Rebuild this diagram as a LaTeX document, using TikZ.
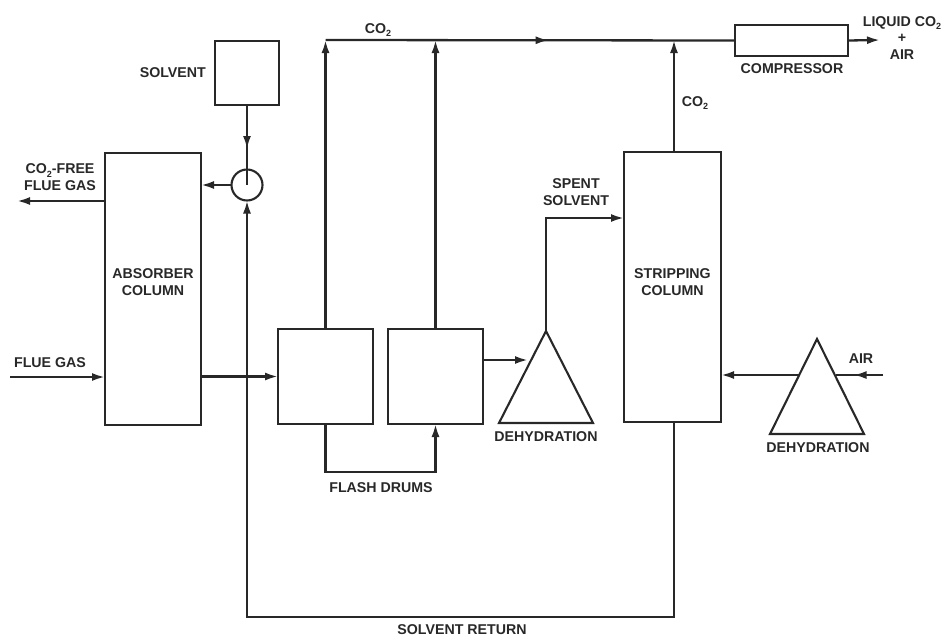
\documentclass[tikz,border=0pt]{standalone}
\usepackage{fontspec}
\setmainfont{Liberation Sans}
\usetikzlibrary{arrows.meta,decorations.markings,calc}
\newcommand{\cotwo}{CO\raisebox{-0.45ex}{\fontsize{9}{9}\selectfont 2}}
\definecolor{ink}{RGB}{40,40,40}
\begin{document}
\begin{tikzpicture}[x=1pt,y=-1pt,
  line width=2.3pt, draw=ink,
  >={Latex[length=13pt,width=8pt]},
  unit/.style={draw=ink, line width=2.1pt, inner sep=0pt, outer sep=0pt},
  lbl/.style={text=ink, font=\fontsize{14.2}{16.5}\selectfont\bfseries, align=center, inner sep=0pt},
  flow/.style={draw=ink, line width=2.3pt},
  midarrow/.style={postaction={decorate}, decoration={markings, mark=at position #1 with {\arrow{>}}}}
]
\useasboundingbox (0,0) rectangle (945,637);

% units
\node[unit, minimum width=96pt, minimum height=272pt] (absorber) at (153,289) {};
\node[unit, minimum width=64pt, minimum height=64pt] (solvent) at (247,73) {};
\node[unit, circle, minimum size=31pt] (mix) at (247,185) {};
\node[unit, minimum width=95pt, minimum height=95pt] (drum1) at (325.5,376.5) {};
\node[unit, minimum width=95pt, minimum height=95pt] (drum2) at (435.5,376.5) {};
\node[unit, minimum width=97pt, minimum height=270pt] (strip) at (672.5,287) {};
\node[unit, minimum width=113pt, minimum height=31pt] (comp) at (791.5,40.5) {};

% triangles (dehydration units)
\coordinate (t1a) at (546,331);
\coordinate (t1l) at (499,423);
\coordinate (t1r) at (593,423);
\draw[line width=2.1pt, line join=miter] (t1a) -- (t1r) -- (t1l) -- cycle;
\coordinate (t2a) at (817,339);
\coordinate (t2l) at (770,434);
\coordinate (t2r) at (864,434);
\draw[line width=2.1pt, line join=miter] (t2a) -- (t2r) -- (t2l) -- cycle;

% labels
\node[lbl] (absorberlbl) at (153,282) {ABSORBER\\COLUMN};
\node[lbl] (striplbl) at (672.5,282) {STRIPPING\\COLUMN};
\node[lbl, anchor=east] (solventlbl) at (207,73) {SOLVENT};
\node[lbl] (freelbl) at (60,177) {\cotwo-FREE\\FLUE GAS};
\node[lbl] (fluelbl) at (50,363) {FLUE GAS};
\node[lbl] (co2top) at (378,30) {\cotwo};
\node[lbl] (co2strip) at (695,103) {\cotwo};
\node[lbl] (complbl) at (792,69) {COMPRESSOR};
\node[lbl] (liqlbl) at (902,38) {LIQUID \cotwo\\+\\AIR};
\node[lbl] (spentlbl) at (576,192) {SPENT\\SOLVENT};
\node[lbl] (deh1lbl) at (546,437) {DEHYDRATION};
\node[lbl] (deh2lbl) at (818,448) {DEHYDRATION};
\node[lbl] (airlbl) at (861,359) {AIR};
\node[lbl] (flashlbl) at (381,488) {FLASH DRUMS};
\node[lbl] (retlbl) at (462,630) {SOLVENT RETURN};

% coordinates
\coordinate (co2line) at (0,40);
\coordinate (fgin) at (10,377);
\coordinate (fgout) at (17,201);
\coordinate (liqout) at (880,40);
\coordinate (airin) at (883,375);
\coordinate (t2lx) at (798.5,375);
\coordinate (t2rx) at (835.5,375);
\coordinate (t1lx) at (528,360);

% connectors
\draw[flow,->] (fgin) -- (fgin -| absorber.west);
\draw[flow,->] (absorber.west |- fgout) -- (fgout);
\draw[flow,->] (absorber.east |- drum1.west) -- (drum1.west);
\draw[flow,->] (mix.west) -- (mix.west -| absorber.east);
\draw[flow, midarrow=0.55] (solvent.south) -- (mix.center);
% solvent return loop
\draw[flow,->] (strip.south -| 674,0) -- (674,617) -- (247,617) -- (mix.south);
% flash drum loop
\draw[flow,->] (drum1.south) -- (325.5,472) -- (435.5,472) -- (drum2.south);
% CO2 collection
\draw[flow,->] (drum1.north) -- (drum1.north |- co2line);
\draw[flow,->] (drum2.north) -- (drum2.north |- co2line);
\draw[flow,->] (strip.north -| 674,0) -- (674,40);
\draw[flow, midarrow=0.545] (drum1.north |- co2line) -- (comp.west);
\draw[flow,->] (comp.east) -- (liqout);
% drum2 to dehydration
\draw[flow,->] (drum2.east |- t1lx) -- (t1lx);
% spent solvent
\draw[flow,->] (t1a) -- (546,218) -- (strip.west |- 0,218);
% air
\draw[flow, midarrow=0.62] (airin) -- (t2rx);
\draw[flow,->] (t2lx) -- (strip.east |- t2lx);
\end{tikzpicture}
\end{document}
